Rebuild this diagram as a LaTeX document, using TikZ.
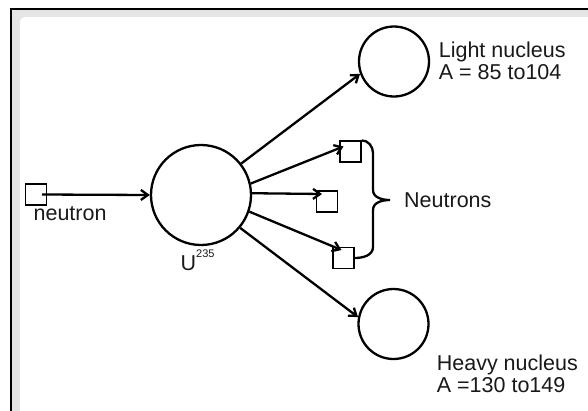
\documentclass[tikz,border=0pt]{standalone}
\usepackage{fontspec}
\setmainfont{Liberation Sans}
\usetikzlibrary{arrows.meta,positioning}

\begin{document}
\begin{tikzpicture}[x=1pt,y=-1pt,>={Straight Barb[length=7pt,width=10pt]},
  nucleus/.style={circle,draw,line width=2.3pt,inner sep=0pt},
  neut/.style={rectangle,draw,line width=1.2pt,minimum size=21pt,inner sep=0pt},
  flow/.style={->,line width=2.3pt},
  lbl/.style={inner sep=0pt,text=black!90,font=\fontsize{21.5}{21.5}\selectfont}]
  \clip (0,0) rectangle (588,410);
  % 外框
  \fill[black!10] (12,10) rectangle (600,420);
  \fill[white,rounded corners=5pt] (20,17) rectangle (620,440);
  \draw[line width=1.3pt] (11,420) -- (11,9) -- (600,9);
  % 入射中子与铀核
  \node[neut] (nin) at (36,194.5) {};
  \node[nucleus,minimum size=100pt] (U) at (201,195) {};
  \node[lbl,anchor=base west] (nlbl) at ([xshift=8.5pt,yshift=-14.5pt]nin.south west) {neutron};
  \node[lbl,anchor=base west] (ulbl) at ([xshift=-20.5pt,yshift=-24pt]U.south)
    {U\raisebox{12.5pt}{\fontsize{11}{11}\selectfont 235}};
  \draw[flow] ([xshift=6pt]nin.center) -- (U.west);
  % 裂变碎片
  \node[nucleus,minimum size=70pt] (light) at (394,61.5) {};
  \node[nucleus,minimum size=70pt] (heavy) at (393.5,324) {};
  \node[lbl,anchor=north west,align=left] (llbl) at ([xshift=8.5pt,yshift=19.5pt]light.east)
    {Light nucleus\\A = 85 to104};
  \node[lbl,anchor=north west,align=left] (hlbl) at ([xshift=7pt,yshift=-31pt]heavy.east)
    {Heavy nucleus\\A =130 to149};
  \draw[flow] (U.38) -- (light.200);
  \draw[flow] (U.320) -- (heavy.169);
  % 释放的中子
  \node[neut] (n1) at (350.5,151.5) {};
  \node[neut] (n2) at (327,201.5) {};
  \node[neut] (n3) at (343.5,258) {};
  \draw[flow] (U.13) -- ([xshift=-7pt,yshift=5pt]n1.center);
  \draw[flow] (U.2) -- ([xshift=-5pt,yshift=7.5pt]n2.center);
  \draw[flow] (U.341) -- ([xshift=-2pt,yshift=8pt]n3.center);
  % 花括号
  \coordinate (tip) at (390,200);
  \draw[line width=2.3pt] (n1.north east) to[out=0,in=90] (373,153) -- (373,190)
    to[out=-90,in=180] (tip) to[out=180,in=90] (373,210) -- (373,247)
    to[out=-90,in=0] (n3.east);
  \node[lbl,right=14pt of tip] (nlabel) {Neutrons};
\end{tikzpicture}
\end{document}
